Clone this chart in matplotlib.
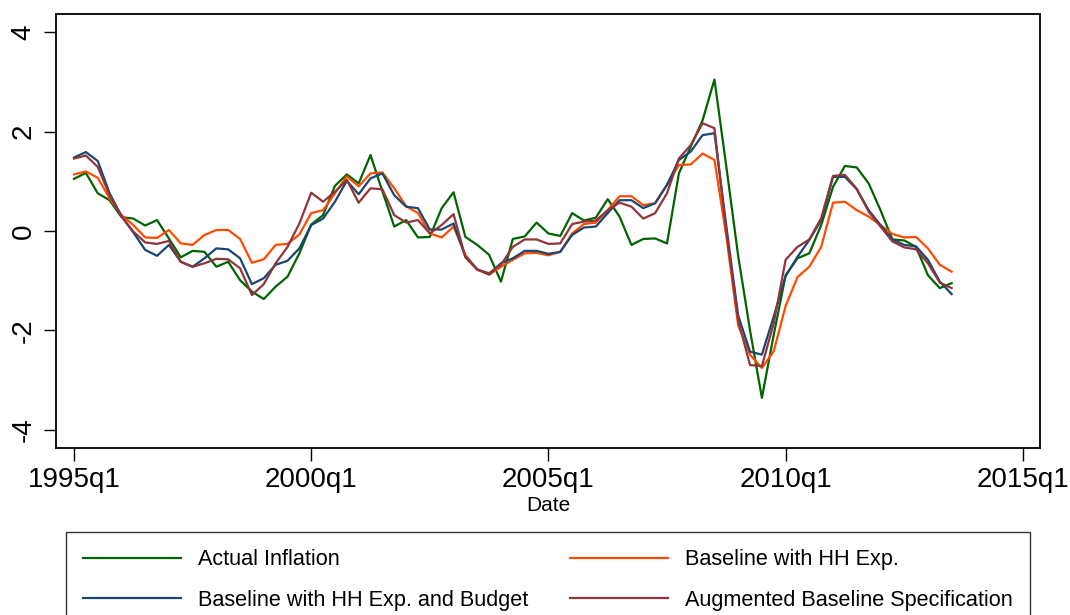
import matplotlib
matplotlib.use("Agg")
import matplotlib.pyplot as plt
import numpy as np

plt.rcParams['font.family'] = ['Liberation Sans', 'DejaVu Sans']

# quarters from 1995q1 to 2013q3
start_year = 1995
n_q = 75
quarters = np.arange(n_q)

actual = [1.05, 1.17, 0.76, 0.62, 0.28, 0.25, 0.11, 0.22, -0.15, -0.53,
          -0.40, -0.42, -0.72, -0.62, -0.99, -1.22, -1.37, -1.12, -0.92, -0.45,
          0.13, 0.32, 0.91, 1.14, 0.96, 1.53, 0.80, 0.09, 0.22, -0.13,
          -0.12, 0.46, 0.78, -0.12, -0.28, -0.48, -1.02, -0.16, -0.11, 0.17,
          -0.05, -0.10, 0.36, 0.21, 0.27, 0.64, 0.29, -0.28, -0.16, -0.15,
          -0.25, 1.16, 1.70, 2.23, 3.05, 1.30, -0.50, -2.00, -3.36, -2.09,
          -0.89, -0.55, -0.45, 0.12, 0.89, 1.31, 1.28, 0.96, 0.42, -0.17,
          -0.19, -0.32, -0.89, -1.15, -1.05]

hh_exp = [1.14, 1.20, 1.07, 0.66, 0.32, 0.12, -0.13, -0.14, 0.02, -0.25,
          -0.28, -0.08, 0.02, 0.02, -0.16, -0.64, -0.57, -0.28, -0.26, -0.07,
          0.36, 0.42, 0.76, 1.10, 0.90, 1.16, 1.18, 0.86, 0.50, 0.36,
          -0.05, -0.13, 0.09, -0.48, -0.78, -0.88, -0.72, -0.58, -0.45, -0.44,
          -0.49, -0.42, -0.05, 0.14, 0.17, 0.42, 0.70, 0.70, 0.52, 0.56,
          0.93, 1.33, 1.34, 1.56, 1.43, -0.10, -1.90, -2.49, -2.76, -2.42,
          -1.51, -0.93, -0.72, -0.32, 0.57, 0.59, 0.42, 0.29, 0.12, -0.06,
          -0.13, -0.12, -0.35, -0.68, -0.82]

hh_budget = [1.48, 1.59, 1.41, 0.76, 0.30, -0.03, -0.38, -0.50, -0.28, -0.62,
             -0.72, -0.55, -0.35, -0.37, -0.55, -1.07, -0.95, -0.68, -0.60, -0.35,
             0.12, 0.25, 0.59, 1.01, 0.74, 1.06, 1.16, 0.72, 0.49, 0.46,
             0.03, 0.03, 0.15, -0.52, -0.77, -0.87, -0.65, -0.55, -0.40, -0.40,
             -0.46, -0.42, -0.08, 0.07, 0.09, 0.36, 0.62, 0.62, 0.46, 0.56,
             0.93, 1.43, 1.60, 1.93, 1.97, 0.10, -1.70, -2.43, -2.49, -1.72,
             -0.91, -0.52, -0.18, 0.22, 1.09, 1.09, 0.84, 0.42, 0.12, -0.17,
             -0.28, -0.31, -0.58, -1.02, -1.27]

augmented = [1.46, 1.52, 1.29, 0.72, 0.29, -0.01, -0.23, -0.26, -0.20, -0.62,
             -0.72, -0.65, -0.56, -0.57, -0.75, -1.29, -1.07, -0.65, -0.32, 0.15,
             0.77, 0.59, 0.79, 1.03, 0.57, 0.86, 0.84, 0.32, 0.17, 0.22,
             -0.05, 0.12, 0.34, -0.53, -0.78, -0.85, -0.68, -0.32, -0.17, -0.17,
             -0.26, -0.25, 0.14, 0.19, 0.21, 0.42, 0.57, 0.49, 0.25, 0.36,
             0.76, 1.46, 1.73, 2.17, 2.07, 0.00, -1.80, -2.70, -2.72, -1.86,
             -0.58, -0.32, -0.17, 0.26, 1.11, 1.13, 0.85, 0.39, 0.09, -0.21,
             -0.33, -0.37, -0.65, -1.04, -1.15]

xtick_pos = [0, 20, 40, 60, 80]
xtick_labels = ["1995q1", "2000q1", "2005q1", "2010q1", "2015q1"]
ytick_pos = [-4, -2, 0, 2, 4]

fig = plt.figure(figsize=(10.7, 6.15), dpi=100)
ax = fig.add_axes([56 / 1070, 1 - 448 / 615, 984 / 1070, 434 / 615])

lw = 1.6
l1, = ax.plot(quarters, actual, color="#006400", lw=lw, label="Actual Inflation")
l2, = ax.plot(quarters, hh_exp, color="#ff4a00", lw=lw, label="Baseline with HH Exp.")
l3, = ax.plot(quarters, hh_budget, color="#1a476f", lw=lw, label="Baseline with HH Exp. and Budget")
l4, = ax.plot(quarters, augmented, color="#90353b", lw=lw, label="Augmented Baseline Specification")

ax.set_xlim(-1.52, 81.45)
ax.set_ylim(-4.37, 4.37)
ax.set_xticks(xtick_pos)
ax.set_xticklabels(xtick_labels, fontsize=20)
ax.set_yticks(ytick_pos)
ax.set_yticklabels([str(v) for v in ytick_pos], fontsize=20, rotation=90, va="center")
ax.tick_params(direction="out", length=9, width=1, pad=5)
for s in ax.spines.values():
    s.set_linewidth(1.3)
ax.set_xlabel("Date", fontsize=15, labelpad=2)

# legend is filled column by column, so order handles to get row-wise layout
handles = [l1, l3, l2, l4]
leg = ax.legend(handles, [h.get_label() for h in handles], ncol=2, mode="expand",
                loc="upper left",
                bbox_to_anchor=(66 / 1070, 1 - 532 / 615, 964 / 1070, 0),
                bbox_transform=fig.transFigure, borderaxespad=0,
                fontsize=15.6, handlelength=4.5, handletextpad=0.8,
                labelspacing=0.9, borderpad=0.8, frameon=True, fancybox=False,
                edgecolor="black")
leg.get_frame().set_linewidth(1.0)

fig.savefig("out.png", dpi=100)
